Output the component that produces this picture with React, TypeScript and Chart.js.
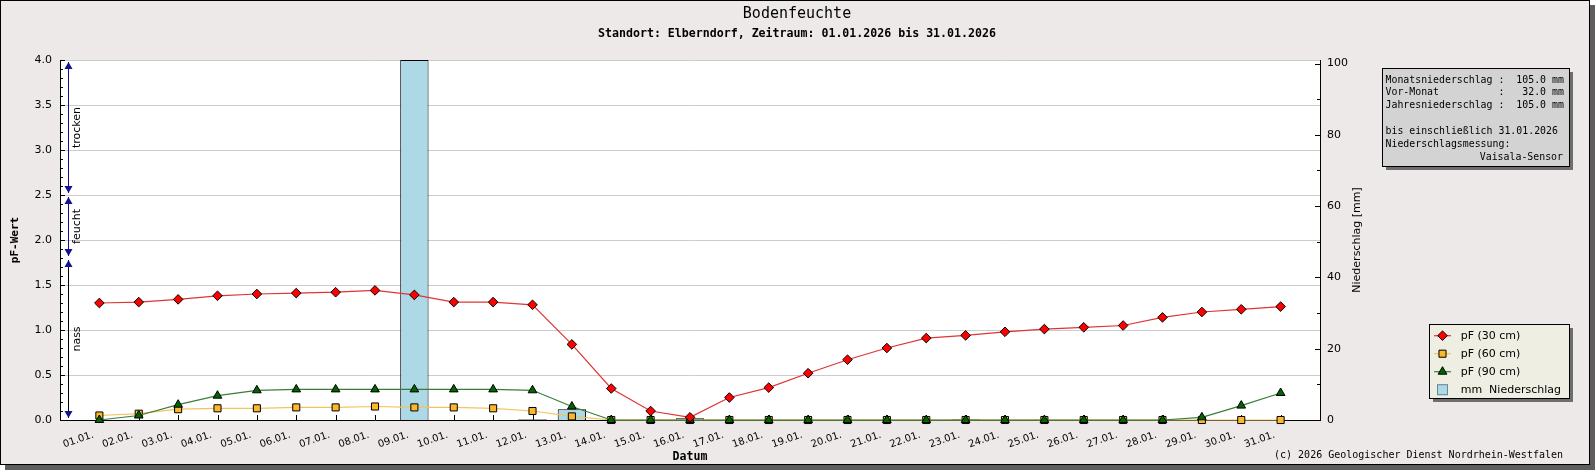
import { useEffect, useRef } from "react";
import { Chart, registerables } from "chart.js";
import { drawPoint } from "chart.js/helpers";

Chart.register(...registerables);

// Tageswerte Januar 2026
const days = [
  "01.01.", "02.01.", "03.01.", "04.01.", "05.01.", "06.01.", "07.01.", "08.01.",
  "09.01.", "10.01.", "11.01.", "12.01.", "13.01.", "14.01.", "15.01.", "16.01.",
  "17.01.", "18.01.", "19.01.", "20.01.", "21.01.", "22.01.", "23.01.", "24.01.",
  "25.01.", "26.01.", "27.01.", "28.01.", "29.01.", "30.01.", "31.01.",
];

const pf30 = [
  1.30, 1.31, 1.34, 1.38, 1.40, 1.41, 1.42, 1.44, 1.39, 1.31, 1.31, 1.28, 0.84, 0.35, 0.10, 0.03,
  0.25, 0.36, 0.52, 0.67, 0.80, 0.91, 0.94, 0.98, 1.01, 1.03, 1.05, 1.14, 1.20, 1.23, 1.26,
];

const pf60 = [
  0.05, 0.07, 0.12, 0.13, 0.13, 0.14, 0.14, 0.15, 0.14, 0.14, 0.13, 0.10, 0.04, 0, 0, 0,
  0, 0, 0, 0, 0, 0, 0, 0, 0, 0, 0, 0, 0, 0, 0,
];

const pf90 = [
  0.00, 0.05, 0.17, 0.27, 0.33, 0.34, 0.34, 0.34, 0.34, 0.34, 0.34, 0.33, 0.15, 0, 0, 0,
  0, 0, 0, 0, 0, 0, 0, 0, 0, 0, 0, 0, 0.03, 0.16, 0.30,
];

// Niederschlag in mm
const rain = [
  0, 0, 0, 0, 0, 0, 0, 0, 101.0, 0, 0, 0.2, 3.0, 0, 0.1, 0.5,
  0, 0, 0, 0, 0, 0, 0.2, 0, 0, 0, 0, 0, 0, 0, 0,
];

// Bereiche der pF-Skala
const zoneNames = ["nass", "feucht", "trocken"];
const zoneBounds = [0, 1.8, 2.5, 4.0];

const legendLabels = ["pF (30 cm)", "pF (60 cm)", "pF (90 cm)", "mm  Niederschlag"];

const infoLines = [
  "Monatsniederschlag :  105.0 mm",
  "Vor-Monat          :   32.0 mm",
  "Jahresniederschlag :  105.0 mm",
  "",
  "bis einschließlich 31.01.2026",
  "Niederschlagsmessung:",
];
const infoSensor = "Vaisala-Sensor";

const title = "Bodenfeuchte";
const subtitle = "Standort: Elberndorf, Zeitraum: 01.01.2026 bis 31.01.2026";
const copyright = "(c) 2026 Geologischer Dienst Nordrhein-Westfalen";

const MONO = "'DejaVu Sans Mono', monospace";
const SANS = "'DejaVu Sans', sans-serif";
const NAVY = "#12128e";

const toXY = (arr: number[]) => arr.map((v, i) => ({ x: i + 1, y: v }));

function arrow(ctx: CanvasRenderingContext2D, x: number, tip: number, up: boolean) {
  const h = 7;
  const d = up ? h : -h;
  ctx.beginPath();
  ctx.moveTo(x, tip);
  ctx.lineTo(x - 4, tip + d);
  ctx.lineTo(x + 4, tip + d);
  ctx.closePath();
  ctx.fill();
}

const gdPlugin = {
  id: "gdPlugin",
  beforeDraw(chart: any) {
    const { ctx, width, height, chartArea: a } = chart;
    ctx.save();
    ctx.fillStyle = "#5e5e5e";
    ctx.fillRect(5, 5, width - 5, height - 5);
    ctx.fillStyle = "#ece9e8";
    ctx.fillRect(0, 0, width - 5, height - 5);
    ctx.strokeStyle = "#000";
    ctx.lineWidth = 1;
    ctx.strokeRect(0.5, 0.5, width - 6, height - 6);
    ctx.fillStyle = "#fff";
    ctx.fillRect(a.left, a.top, a.right - a.left, a.bottom - a.top);
    ctx.restore();
  },
  beforeDatasetsDraw(chart: any) {
    const { ctx, chartArea: a } = chart;
    const { x, y, y1 } = chart.scales;
    ctx.save();
    ctx.strokeStyle = "#000";
    ctx.lineWidth = 1;
    ctx.beginPath();
    // linke Achse: Haupt- und Zwischenstriche nach innen
    for (let i = 0; i <= 40; i++) {
      const py = Math.round(y.getPixelForValue(i / 10)) + 0.5;
      const len = i % 5 === 0 ? 5 : 3;
      ctx.moveTo(a.left, py);
      ctx.lineTo(a.left + len, py);
    }
    // rechte Achse
    for (let v = 0; v <= 100; v += 10) {
      const py = Math.round(y1.getPixelForValue(v)) + 0.5;
      const len = v % 20 === 0 ? 5 : 3;
      ctx.moveTo(a.right, py);
      ctx.lineTo(a.right - len, py);
    }
    // x-Achse
    days.forEach((_, i) => {
      const px = Math.round(x.getPixelForValue(i + 1)) + 0.5;
      ctx.moveTo(px, a.bottom);
      ctx.lineTo(px, a.bottom - 5);
    });
    ctx.stroke();
    ctx.restore();
  },
  afterDraw(chart: any) {
    const { ctx, chartArea: a } = chart;
    const { y } = chart.scales;
    ctx.save();

    // Bereichspfeile trocken / feucht / nass
    const lx = a.left + 8.5;
    zoneNames.forEach((name, i) => {
      const top = y.getPixelForValue(zoneBounds[i + 1]) + 2;
      const bottom = y.getPixelForValue(zoneBounds[i]) - 2;
      ctx.strokeStyle = i === 0 ? "#000" : NAVY;
      ctx.lineWidth = 1;
      ctx.beginPath();
      ctx.moveTo(lx, top);
      ctx.lineTo(lx, bottom);
      ctx.stroke();
      ctx.fillStyle = NAVY;
      arrow(ctx, lx, top, true);
      arrow(ctx, lx, bottom, false);
      const mid = y.getPixelForValue((zoneBounds[i] + zoneBounds[i + 1]) / 2);
      ctx.save();
      ctx.translate(lx + 8.5, mid);
      ctx.rotate(-Math.PI / 2);
      ctx.fillStyle = "#000";
      ctx.font = `11px ${SANS}`;
      ctx.textAlign = "center";
      ctx.textBaseline = "middle";
      ctx.fillText(name, 0, 0);
      ctx.restore();
    });

    // Titel
    ctx.fillStyle = "#000";
    ctx.textAlign = "center";
    ctx.textBaseline = "middle";
    ctx.font = `15px ${MONO}`;
    ctx.fillText(title, 797, 14.5);
    ctx.font = `bold 11.6px ${MONO}`;
    ctx.fillText(subtitle, 797, 33.5);
    ctx.fillText("Datum", (a.left + a.right) / 2, 457);

    ctx.save();
    ctx.translate(15, (a.top + a.bottom) / 2);
    ctx.rotate(-Math.PI / 2);
    ctx.font = `bold 11px ${MONO}`;
    ctx.fillText("pF-Wert", 0, 0);
    ctx.restore();

    ctx.save();
    ctx.translate(a.right + 37, (a.top + a.bottom) / 2);
    ctx.rotate(-Math.PI / 2);
    ctx.font = `11px ${SANS}`;
    ctx.fillText("Niederschlag [mm]", 0, 0);
    ctx.restore();

    ctx.textAlign = "right";
    ctx.font = `10px ${MONO}`;
    ctx.fillText(copyright, 1563, 455);

    // Infobox
    const ix = a.right + 62;
    const iy = 68;
    const iw = 187;
    const ih = 98;
    ctx.fillStyle = "#6e6e6e";
    ctx.fillRect(ix + 4, iy + 4, iw, ih);
    ctx.fillStyle = "#d3d3d3";
    ctx.fillRect(ix, iy, iw, ih);
    ctx.strokeStyle = "#000";
    ctx.strokeRect(ix + 0.5, iy + 0.5, iw, ih);
    ctx.fillStyle = "#000";
    ctx.font = `9.9px ${MONO}`;
    ctx.textAlign = "left";
    infoLines.forEach((line, i) => ctx.fillText(line, ix + 3.5, iy + 12 + i * 12.9));
    ctx.textAlign = "right";
    ctx.fillText(infoSensor, ix + iw - 6, iy + 12 + infoLines.length * 12.9);

    // Legende
    const gx = a.right + 109;
    const gy = 324;
    const gw = 140;
    const gh = 74;
    ctx.fillStyle = "#6e6e6e";
    ctx.fillRect(gx + 4, gy + 4, gw, gh);
    ctx.fillStyle = "#eeeee2";
    ctx.fillRect(gx, gy, gw, gh);
    ctx.strokeStyle = "#000";
    ctx.strokeRect(gx + 0.5, gy + 0.5, gw, gh);
    const sets = chart.data.datasets;
    const order = [0, 2, 1, 3];
    legendLabels.forEach((label, i) => {
      const ds = sets[order[i]];
      const ry = gy + 11.7 + i * 18;
      if (ds.type === "line") {
        ctx.strokeStyle = ds.borderColor;
        ctx.lineWidth = 1.2;
        ctx.beginPath();
        ctx.moveTo(gx + 5, ry);
        ctx.lineTo(gx + 22, ry);
        ctx.stroke();
        ctx.fillStyle = ds.pointBackgroundColor;
        ctx.strokeStyle = ds.pointBorderColor;
        ctx.lineWidth = 1;
        drawPoint(ctx, { pointStyle: ds.pointStyle, radius: ds.pointRadius, borderWidth: 1, rotation: 0 } as any, gx + 13.5, ry);
      } else {
        ctx.fillStyle = ds.backgroundColor;
        ctx.fillRect(gx + 8, ry - 5.5, 11, 11);
        ctx.strokeStyle = "#6a8794";
        ctx.lineWidth = 1;
        ctx.strokeRect(gx + 8.5, ry - 5, 10, 10);
      }
      ctx.fillStyle = "#000";
      ctx.textAlign = "left";
      ctx.textBaseline = "middle";
      ctx.font = `11px ${SANS}`;
      ctx.fillText(label, gx + 31.7, ry);
    });

    ctx.restore();
  },
};

export default function App() {
  const canvasRef = useRef<HTMLCanvasElement>(null);

  useEffect(() => {
    document.body.style.margin = "0";
    document.body.style.overflow = "hidden";
    if (!canvasRef.current) return;

    Chart.defaults.font.family = SANS;
    Chart.defaults.color = "#000";

    const chart = new Chart(canvasRef.current, {
      type: "bar",
      data: {
        datasets: [
          {
            type: "line",
            label: legendLabels[0],
            data: toXY(pf30),
            borderColor: "#e03434",
            borderWidth: 1.2,
            pointStyle: "rectRot",
            pointRadius: 4.8,
            pointBackgroundColor: "#ff0000",
            pointBorderColor: "#000",
            pointBorderWidth: 1,
            tension: 0,
            yAxisID: "y",
            clip: false,
          },
          {
            type: "line",
            label: legendLabels[2],
            data: toXY(pf90),
            borderColor: "#3a7d3a",
            borderWidth: 1.2,
            pointStyle: "triangle",
            pointRadius: 5,
            pointBackgroundColor: "#006400",
            pointBorderColor: "#000",
            pointBorderWidth: 1,
            tension: 0,
            yAxisID: "y",
            clip: false,
          },
          {
            type: "line",
            label: legendLabels[1],
            data: toXY(pf60),
            borderColor: "#f2c55c",
            borderWidth: 1.2,
            pointStyle: "rect",
            pointRadius: 5,
            pointBackgroundColor: "#fbb829",
            pointBorderColor: "#000",
            pointBorderWidth: 1,
            tension: 0,
            yAxisID: "y",
            clip: false,
          },
          {
            type: "bar",
            label: legendLabels[3],
            data: toXY(rain),
            backgroundColor: "#add8e6",
            borderColor: "#000",
            borderWidth: 1,
            yAxisID: "y1",
          },
        ],
      } as any,
      options: {
        responsive: false,
        animation: false,
        events: [],
        layout: { padding: { top: 60, left: 0, right: 0, bottom: 0 } },
        plugins: {
          legend: { display: false },
          tooltip: { enabled: false },
        },
        scales: {
          x: {
            type: "linear",
            min: 0,
            max: days.length + 1,
            offset: false,
            grid: { display: false, drawTicks: false, offset: false },
            border: { display: true, color: "#000", width: 1 },
            ticks: {
              stepSize: 1,
              autoSkip: false,
              maxRotation: 19,
              minRotation: 19,
              padding: 9,
              labelOffset: -6,
              font: { size: 10 },
              color: "#000",
              callback: (v: any) => days[Number(v) - 1] ?? "",
            },
            afterFit: (s: any) => {
              s.height = 50;
            },
          },
          y: {
            type: "linear",
            position: "left",
            min: 0,
            max: 4,
            grid: { color: "#cccccc", drawTicks: false },
            border: { display: true, color: "#000", width: 1 },
            ticks: {
              stepSize: 0.5,
              padding: 8,
              font: { size: 11 },
              color: "#000",
              callback: (v: any) => Number(v).toFixed(1),
            },
            afterFit: (s: any) => {
              s.width = 60;
            },
          },
          y1: {
            type: "linear",
            position: "right",
            min: 0,
            max: 101,
            grid: { display: false, drawTicks: false },
            border: { display: true, color: "#000", width: 1 },
            ticks: {
              stepSize: 20,
              includeBounds: false,
              padding: 7,
              font: { size: 11 },
              color: "#000",
            },
            afterFit: (s: any) => {
              s.width = 275;
            },
          },
        },
      },
      plugins: [gdPlugin],
    });

    return () => chart.destroy();
  }, []);

  return <canvas ref={canvasRef} width={1595} height={470} />;
}
